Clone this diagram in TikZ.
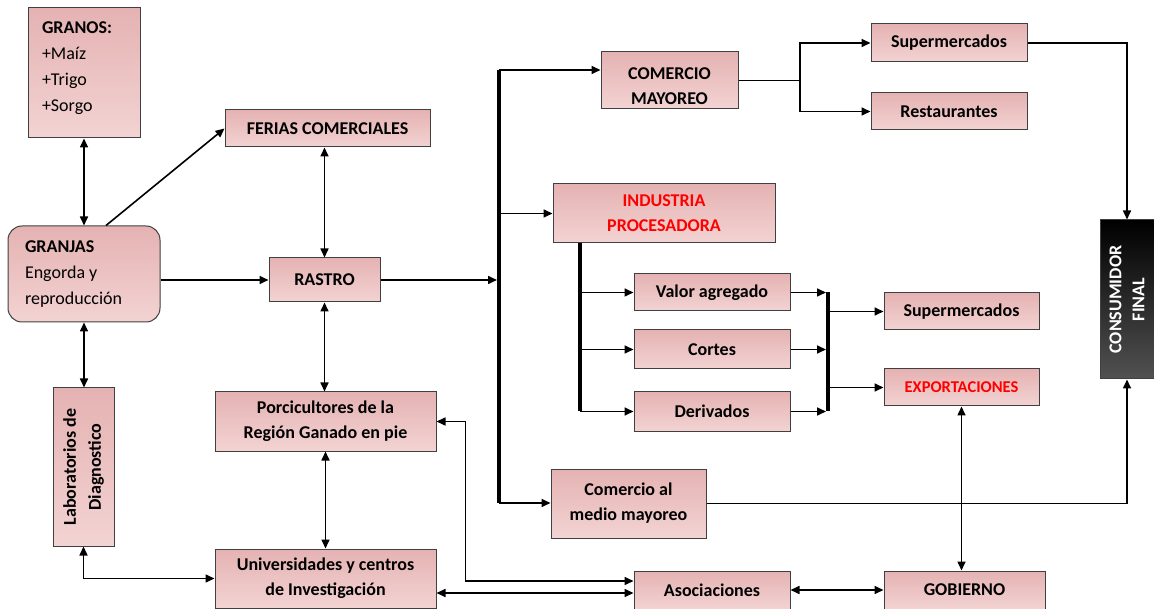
\documentclass[tikz,border=0pt]{standalone}
\usepackage{fontspec}
\setmainfont{Carlito}
\usetikzlibrary{arrows.meta,calc}
\definecolor{rosaarriba}{RGB}{229,178,178}
\definecolor{rosaabajo}{RGB}{243,211,211}
\definecolor{borde}{RGB}{64,64,64}
\tikzset{
  caja/.style={draw=borde, line width=1pt, top color=rosaarriba, bottom color=rosaabajo,
    inner sep=2pt, align=center, font=\fontsize{18}{25}\selectfont\bfseries},
  roja/.style={text=red},
  flecha/.style={line width=1.6pt, -{Triangle[length=9pt,width=8pt]}},
  dflecha/.style={line width=1.6pt, {Triangle[length=9pt,width=8pt]}-{Triangle[length=9pt,width=8pt]}},
  barra/.style={line width=4pt},
  linea/.style={line width=1.6pt}
}

\begin{document}
\begin{tikzpicture}[x=1pt,y=-1pt]
  %%%%% START %%%%%
  \useasboundingbox (0,0) rectangle (1154,609);

  % columna izquierda
  \node[caja, inner xsep=14pt, inner ysep=6pt, font=\fontsize{18}{26}\selectfont] (granos) at (84,73)
    {\parbox[c][118pt][t]{84pt}{\vspace*{8pt}\textbf{GRANOS:}\\+Maíz\\+Trigo\\+Sorgo}};
  \node[caja, rounded corners=14pt, inner xsep=17pt, minimum height=96pt,
    font=\fontsize{18}{26}\selectfont] (granjas) at (84,274)
    {\parbox{118pt}{\textbf{GRANJAS}\\Engorda y\\reproducción}};
  \node[caja, rotate=90, minimum width=158pt, minimum height=61pt] (lab) at (83.5,467)
    {Laboratorios de\\Diagnostico};

  % columna central
  \node[caja, minimum width=205pt, minimum height=37pt] (ferias) at (327.5,128.5) {FERIAS COMERCIALES};
  \node[caja, minimum width=111pt, minimum height=44pt] (rastro) at (324.5,280) {RASTRO};
  \node[caja, minimum width=221pt, minimum height=59pt] (porci) at (325.5,421.5)
    {Porcicultores de la\\Región Ganado en pie};
  \node[caja, minimum width=221pt, minimum height=59pt] (univ) at (325.5,578.5)
    {Universidades y centros\\de Investigación};

  % comercializacion
  \node[caja, minimum width=137pt, minimum height=57pt, text height=48pt] (comercio) at (669.5,80.5)
    {COMERCIO\\MAYOREO};
  \node[caja, roja, minimum width=222pt, minimum height=59pt] (industria) at (664,213.5)
    {INDUSTRIA\\PROCESADORA};
  \node[caja, minimum width=156pt, minimum height=37pt] (valor) at (712,292.5) {Valor agregado};
  \node[caja, minimum width=156pt, minimum height=39pt] (cortes) at (712,349.5) {Cortes};
  \node[caja, minimum width=156pt, minimum height=39pt] (deriv) at (712,411.5) {Derivados};
  \node[caja, minimum width=155pt, minimum height=69pt] (medio) at (628.5,503.5)
    {Comercio al\\medio mayoreo};
  \node[caja, minimum width=156pt, minimum height=38pt] (asoc) at (712,590) {Asociaciones};
  \node[caja, minimum width=161pt, minimum height=38pt] (gob) at (964.5,590) {GOBIERNO};

  % destinos
  \node[caja, minimum width=156pt, minimum height=38pt] (super1) at (949,43) {Supermercados};
  \node[caja, minimum width=156pt, minimum height=37pt] (resta) at (949,111.5) {Restaurantes};
  \node[caja, minimum width=155pt, minimum height=37pt] (super2) at (961.5,311.5) {Supermercados};
  \node[caja, roja, minimum width=155pt, minimum height=37pt,
    font=\fontsize{16.5}{19}\selectfont\bfseries] (export) at (961.5,387.5) {EXPORTACIONES};
  \node[draw=borde, line width=1pt, top color=black, bottom color=black!68, text=white,
    rotate=90, align=center, minimum width=159pt, minimum height=54pt, inner sep=1pt,
    font=\fontsize{18}{23}\selectfont\bfseries] (consumidor) at (1127,299.5)
    {CONSUMIDOR\\FINAL};

  % conexiones izquierda
  \draw[dflecha] (granos) -- (granjas);
  \draw[flecha] ($(granjas.north)+(22,0)$) -- (ferias.west);
  \draw[flecha] (granjas.east |- rastro) -- (rastro.west);
  \draw[dflecha] (ferias.south -| rastro) -- (rastro.north);
  \draw[dflecha] (rastro.south) -- (rastro.south |- porci.north);
  \draw[dflecha] (porci) -- (univ);
  \draw[dflecha] (granjas.south) -- (granjas.south |- lab.east);
  \draw[dflecha] (lab.west) |- (univ.west);

  % barra principal
  \coordinate (bt) at (499,70);
  \coordinate (bb) at (499,503);
  \draw[barra] (bt) -- (bb);
  \draw[flecha, shorten >=2pt] (rastro.east) -- (rastro.east -| bt);
  \draw[flecha] (bt) -- (bt -| comercio.west);
  \draw[flecha] (industria.west -| bt) -- (industria.west);
  \draw[flecha] (bb) -- (bb -| medio.west);

  % comercio mayoreo
  \coordinate (sp) at (800,0);
  \draw[linea] (comercio.east) -- (comercio.east -| sp);
  \draw[flecha] (comercio.east -| sp) |- (super1.west);
  \draw[flecha] (comercio.east -| sp) |- (resta.west);

  % industria procesadora
  \coordinate (ib) at (580,0);
  \coordinate (rb) at (828,0);
  \draw[barra] (industria.south -| ib) -- (deriv -| ib);
  \draw[barra] (valor -| rb) -- (deriv -| rb);
  \foreach \n in {valor,cortes,deriv}{
    \draw[flecha] (\n -| ib) -- (\n.west);
    \draw[flecha, shorten >=2pt] (\n.east) -- (\n.east -| rb);
  }
  \draw[flecha] (super2 -| rb) -- (super2.west);
  \draw[flecha] (export -| rb) -- (export.west);

  % consumidor final
  \draw[flecha] (super1.east) -| (consumidor.east);
  \draw[flecha] (medio.east) -| (consumidor.west);

  % abajo
  \draw[dflecha] (export.south) -- (export.south |- gob.north);
  \draw[dflecha] (asoc) -- (gob);
  \coordinate (a1) at ($(asoc.west)+(0,-9)$);
  \coordinate (a2) at ($(asoc.west)+(0,3)$);
  \draw[dflecha] (porci.east) -- ++(29,0) |- (a1);
  \draw[dflecha] (a2 -| univ.east) -- (a2);
  %%%%% END %%%%%
\end{tikzpicture}
\end{document}
